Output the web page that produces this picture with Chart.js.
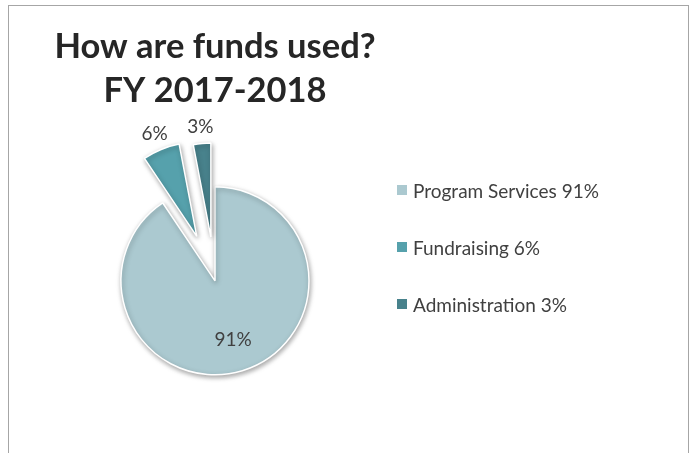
<!DOCTYPE html>
<html lang="en">
<head>
<meta charset="UTF-8">
<title>How are funds used? FY 2017-2018</title>
<script src="https://cdn.jsdelivr.net/npm/chart.js"></script>
<style>
  html, body { margin: 0; padding: 0; background: #fff; overflow: hidden; }
  body { width: 695px; height: 453px; position: relative; font-family: Lato, "Open Sans", sans-serif; }
  #frame { position: absolute; left: 8px; top: 5px; width: 679px; height: 470px; border: 1px solid #a6a6a6; }
  #chart { position: absolute; left: 0; top: 0; }
  #legend { position: absolute; left: 397px; top: 178px; list-style: none; margin: 0; padding: 0; color: #404040; font-size: 19px; }
  #legend li { display: flex; align-items: center; height: 24px; margin-bottom: 33px; white-space: nowrap; }
  #legend .box { width: 10px; height: 10px; margin-right: 6px; }
</style>
</head>
<body>

<div id="frame"></div>
<canvas id="chart" width="695" height="453"></canvas>
<ul id="legend"></ul>

<script>
const categories = ['Program Services', 'Fundraising', 'Administration'];
const shares = [90.6, 6.4, 3.0];
const titleLines = ['How are funds used?', 'FY 2017-2018'];
const colors = ['#abc9d0', '#56a1ac', '#48828c'];
const explode = [0, 48, 44]; // how far each slice is pulled out, px

const pct = v => Math.round(v) + '%';
const legendLabels = categories.map((c, i) => c + ' ' + pct(shares[i]));

// legend on the right
const legendEl = document.getElementById('legend');
legendLabels.forEach((txt, i) => {
  const li = document.createElement('li');
  const box = document.createElement('span');
  box.className = 'box';
  box.style.background = colors[i];
  li.appendChild(box);
  li.appendChild(document.createTextNode(txt));
  legendEl.appendChild(li);
});

// draw slices pulled out along their middle angle, plus the % labels
const explodePie = {
  id: 'explodePie',
  beforeDatasetDraw(chart, args) {
    const ctx = chart.ctx;
    args.meta.data.forEach((arc, i) => {
      const mid = (arc.startAngle + arc.endAngle) / 2;
      ctx.save();
      ctx.translate(Math.cos(mid) * explode[i], Math.sin(mid) * explode[i]);
      ctx.shadowColor = 'rgba(0,0,0,0.35)';
      ctx.shadowBlur = 5;
      ctx.shadowOffsetX = 1;
      ctx.shadowOffsetY = 2;
      arc.draw(ctx);
      ctx.restore();
    });
    return false;
  },
  afterDatasetsDraw(chart) {
    const ctx = chart.ctx;
    const meta = chart.getDatasetMeta(0);
    ctx.save();
    ctx.font = '19px Lato';
    ctx.fillStyle = '#404040';
    ctx.textAlign = 'center';
    ctx.textBaseline = 'middle';
    meta.data.forEach((arc, i) => {
      const mid = (arc.startAngle + arc.endAngle) / 2;
      const dist = explode[i] > 0 ? arc.outerRadius + explode[i] + 17 : arc.outerRadius * 0.66;
      ctx.fillText(pct(shares[i]), arc.x + Math.cos(mid) * dist, arc.y + Math.sin(mid) * dist);
    });
    ctx.restore();
  }
};

new Chart(document.getElementById('chart'), {
  type: 'pie',
  data: {
    labels: legendLabels,
    datasets: [{
      data: shares,
      backgroundColor: colors,
      borderColor: '#ffffff',
      borderWidth: 1.5
    }]
  },
  options: {
    responsive: false,
    animation: false,
    events: [],
    radius: 94,
    layout: { padding: { left: 45, right: 310, top: 0, bottom: 5 } },
    plugins: {
      legend: { display: false },
      tooltip: { enabled: false },
      title: {
        display: true,
        text: titleLines,
        color: '#262626',
        font: { family: 'Lato', size: 34.5, weight: 'bold', lineHeight: 1.3 },
        padding: { top: 24, bottom: 0 }
      }
    }
  },
  plugins: [explodePie]
});
</script>

</body>
</html>
